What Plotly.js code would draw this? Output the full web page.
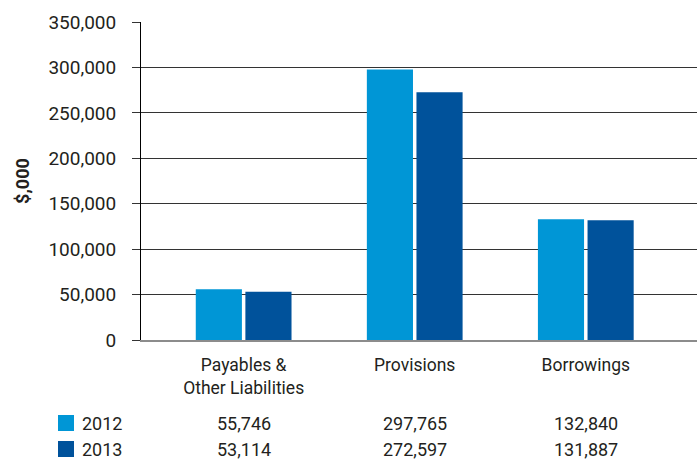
<!DOCTYPE html>
<html>
<head>
<meta charset="utf-8">
<script src="https://cdn.plot.ly/plotly-3.0.1.min.js"></script>
<style>html,body{margin:0;padding:0;background:#fff;}#chart{width:699px;height:460px;}</style>
</head>
<body>
<div id="chart"></div>
<script>
const categories = ["Payables &<br>Other Liabilities", "Provisions", "Borrowings"];
const seriesNames = ["2012", "2013"];
const values2012 = [55746, 297765, 132840];
const values2013 = [53114, 272597, 131887];
const yTickValues = [0, 50000, 100000, 150000, 200000, 250000, 300000, 350000];

const colors = ["#0096d6", "#00529b"];
const FONT = "Roboto, 'Liberation Sans', sans-serif";
const TXT = "#231f20";

const xIdx = categories.map((c, i) => i);
const traces = [values2012, values2013].map((vals, s) => ({
  type: "bar",
  name: seriesNames[s],
  x: xIdx,
  y: vals,
  marker: {color: colors[s], line: {width: 0}},
  hoverinfo: "y"
}));

// plot-area pixel geometry helpers (for table/legend placement)
const L = 141, R = 2, T = 22, B = 120, W = 699, H = 460;
const pw = W - L - R, ph = H - T - B;
const px = x => (x - L) / pw;
const py = y => (H - B - y) / ph;

const rows = [values2012, values2013];
const rowY = [423, 449];
const annotations = [];
const shapes = [];
rows.forEach((vals, s) => {
  vals.forEach((v, i) => {
    annotations.push({
      xref: "x", yref: "paper", x: i, y: py(rowY[s]),
      text: v.toLocaleString("en-US"), showarrow: false,
      xanchor: "center", yanchor: "middle",
      font: {family: FONT, size: 18, color: TXT}
    });
  });
  annotations.push({
    xref: "paper", yref: "paper", x: px(80), y: py(rowY[s]),
    text: seriesNames[s], showarrow: false, xanchor: "left", yanchor: "middle",
    font: {family: FONT, size: 18, color: TXT}
  });
  shapes.push({
    type: "rect", xref: "paper", yref: "paper",
    x0: px(58), x1: px(74), y0: py(rowY[s] + 8), y1: py(rowY[s] - 8),
    fillcolor: colors[s], line: {width: 0}
  });
});

const layout = {
  width: W, height: H,
  margin: {l: L, r: R, t: T, b: B, pad: 0},
  paper_bgcolor: "#fff", plot_bgcolor: "#fff",
  showlegend: false,
  barmode: "group",
  bargap: 0.42,
  bargroupgap: 0.07,
  font: {family: FONT, color: TXT},
  xaxis: {
    range: [-0.6, 2.65],
    tickvals: xIdx,
    ticktext: categories,
    ticks: "",
    showgrid: false,
    zeroline: false,
    showline: true,
    linecolor: "#8c8c8c",
    linewidth: 2,
    tickfont: {family: FONT, size: 17.5, color: TXT},
    ticklabelstandoff: 8
  },
  yaxis: {
    range: [0, 350000],
    tickvals: yTickValues,
    tickformat: ",",
    ticks: "outside",
    ticklen: 8,
    tickcolor: "#333",
    showline: true,
    linecolor: "#000",
    linewidth: 1,
    showgrid: true,
    gridcolor: "#333",
    gridwidth: 1,
    zeroline: false,
    tickfont: {family: FONT, size: 19, color: TXT},
    ticklabelstandoff: 12,
    title: {text: "$,000", font: {family: FONT, size: 18, color: TXT, weight: "bold"}, standoff: 14}
  },
  shapes: shapes,
  annotations: annotations
};

Plotly.newPlot("chart", traces, layout, {displayModeBar: false, staticPlot: true});
</script>
</body>
</html>
